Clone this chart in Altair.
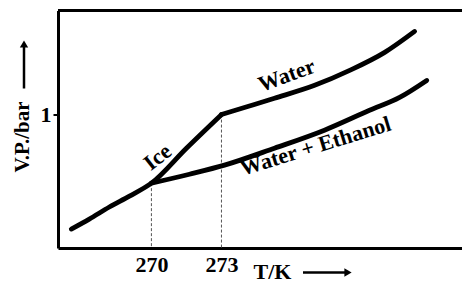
import altair as alt
import pandas as pd

# ---- data ----
ice_T = [266.57, 267.34, 268.2, 269.06, 270.0, 271.5, 273.0]
ice_V = [0.142, 0.217, 0.307, 0.389, 0.486, 0.748, 1.0]

water_T = [273.0, 274.16, 275.27, 276.99, 278.49, 279.99, 281.27]
water_V = [1.0, 1.062, 1.122, 1.219, 1.331, 1.466, 1.623]

eth_T = [270.0, 271.63, 273.13, 275.27, 277.41, 279.34, 280.63, 281.79]
eth_V = [0.486, 0.553, 0.621, 0.748, 0.883, 1.032, 1.129, 1.256]

drop_T = [270, 273]
drop_V = [0.486, 1.0]

x_ticks = [270, 273]
y_ticks = [1]

label_text = ["Ice", "Water", "Water + Ethanol"]
label_T = [270.26, 275.79, 277.03]
label_V = [0.681, 1.294, 0.763]
label_angle = [322, 340, 343]

# ---- tables ----
rows = []
for name, Ts, Vs in [("Ice", ice_T, ice_V), ("Water", water_T, water_V),
                     ("Water + Ethanol", eth_T, eth_V)]:
    for i, (t, v) in enumerate(zip(Ts, Vs)):
        rows.append({"series": name, "T": t, "V": v, "order": i})
curves = pd.DataFrame(rows)
drops = pd.DataFrame({"T": drop_T, "V": drop_V, "V0": [0.0] * len(drop_T)})
labels = pd.DataFrame({"text": label_text, "T": label_T, "V": label_V, "angle": label_angle})

W = 404
H = 237.5
FONT = "Liberation Serif"
FS = 22

xs = alt.Scale(domain=[266, 283.3], nice=False, zero=False)
ys = alt.Scale(domain=[0, 1.78], nice=False, zero=False)

x_axis = alt.Axis(values=x_ticks, format="d", title="T/K", grid=False,
                  domainWidth=3, domainColor="black", tickSize=0,
                  labelFont=FONT, labelFontSize=FS, labelFontWeight="bold", labelColor="black",
                  labelPadding=6, titleFont=FONT, titleFontSize=FS, titleFontWeight="bold",
                  titleColor="black", titleX=195, titleY=30.5, titleAlign="left",
                  titleBaseline="alphabetic")
y_axis = alt.Axis(values=y_ticks, format="d", title="V.P./bar", grid=False,
                  domainWidth=3, domainColor="black", tickSize=5, tickWidth=2, tickColor="black",
                  labelFont=FONT, labelFontSize=FS, labelFontWeight="bold", labelColor="black",
                  labelPadding=2, titleFont=FONT, titleFontSize=21, titleFontWeight="bold",
                  titleColor="black", titleX=-36, titleY=126, titleAngle=270,
                  titleAlign="center", titleBaseline="middle")

lines = alt.Chart(curves).mark_line(interpolate="monotone", strokeWidth=4.8,
                                    strokeCap="round", color="black").encode(
    x=alt.X("T:Q", scale=xs, axis=x_axis),
    y=alt.Y("V:Q", scale=ys, axis=y_axis),
    detail="series:N",
    order="order:Q",
)

dashed = alt.Chart(drops).mark_rule(strokeDash=[3, 2], strokeWidth=1, color="#555").encode(
    x=alt.X("T:Q", scale=xs),
    y=alt.Y("V:Q", scale=ys),
    y2="V0:Q",
)

text = alt.Chart(labels).mark_text(font=FONT, fontSize=FS, fontWeight="bold", color="black",
                                   align="center", baseline="middle").encode(
    x=alt.X("T:Q", scale=xs),
    y=alt.Y("V:Q", scale=ys),
    text="text:N",
    angle=alt.Angle("angle:Q", scale=None),
)

one = pd.DataFrame({"a": [0]})
top = alt.Chart(one).mark_rule(strokeWidth=3, color="black").encode(
    x=alt.value(0), x2=alt.value(W), y=alt.value(0)
)

# axis-title arrows (decoration)
y_shaft = alt.Chart(one).mark_rule(strokeWidth=2.5, color="black").encode(
    x=alt.value(-34), y=alt.value(78), y2=alt.value(35)
)
y_head = alt.Chart(one).mark_point(shape="triangle-up", filled=True, size=70, opacity=1,
                                   color="black").encode(
    x=alt.value(-34), y=alt.value(33.5)
)
x_shaft = alt.Chart(one).mark_rule(strokeWidth=2.5, color="black").encode(
    x=alt.value(245), x2=alt.value(288), y=alt.value(262)
)
x_head = alt.Chart(one).mark_point(shape="triangle-right", filled=True, size=70, opacity=1,
                                   color="black").encode(
    x=alt.value(290), y=alt.value(262)
)

chart = alt.layer(dashed, lines, text, top, y_shaft, y_head, x_shaft, x_head).properties(
    width=W, height=H,
    autosize=alt.AutoSizeParams(type="none"),
    padding={"left": 50, "top": 2.5, "right": 0, "bottom": 36},
    background="white",
).configure_view(stroke=None)

chart.save("out.html", embed_options={"renderer": "svg", "actions": False})
